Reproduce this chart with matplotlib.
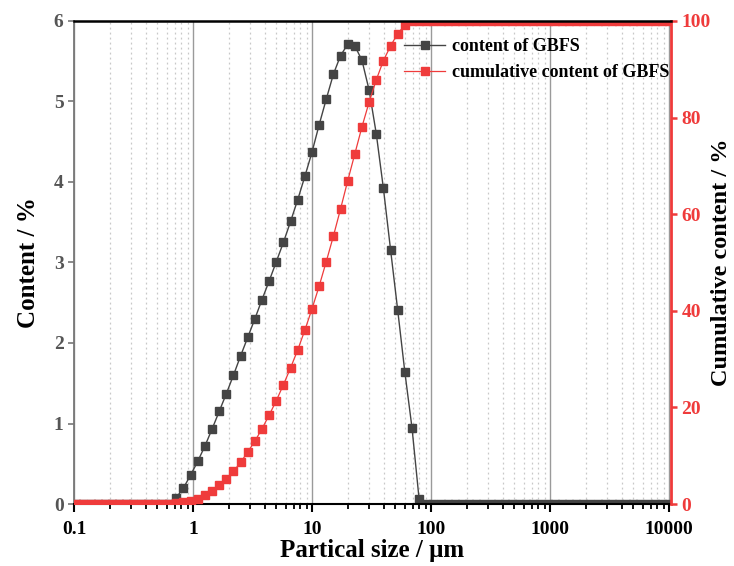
import numpy as np
import matplotlib
matplotlib.use('Agg')
import matplotlib.pyplot as plt
from matplotlib.ticker import FixedLocator, NullFormatter

plt.rcParams['font.family'] = ['Liberation Serif', 'DejaVu Serif']
plt.rcParams['font.weight'] = 'bold'

# size classes (um) of the analyser
sizes = [0.1047, 0.1202, 0.1380, 0.1585, 0.1820, 0.2089, 0.2399, 0.2754, 0.3162, 0.3631,
         0.4169, 0.4786, 0.5495, 0.6310, 0.7244, 0.8318, 0.9550, 1.096, 1.259, 1.445,
         1.660, 1.905, 2.188, 2.512, 2.884, 3.311, 3.802, 4.365, 5.012, 5.754,
         6.607, 7.586, 8.710, 10.00, 11.48, 13.18, 15.14, 17.38, 19.95, 22.91,
         26.30, 30.20, 34.67, 39.81, 45.71, 52.48, 60.26, 69.18, 79.43, 91.20,
         104.7, 120.2, 138.0, 158.5, 182.0, 208.9, 239.9, 275.4, 316.2, 363.1,
         416.9, 478.6, 549.5, 631.0, 724.4, 831.8, 955.0, 1096, 1259, 1445,
         1660, 1905, 2188, 2512, 2884, 3311, 3802, 4365, 5012, 5754,
         6607, 7586, 8710, 10000]

content = [0.0] * 14 + [
    0.08, 0.20, 0.36, 0.53, 0.72, 0.93, 1.15, 1.37, 1.60, 1.84,
    2.07, 2.30, 2.54, 2.77, 3.01, 3.25, 3.51, 3.78, 4.07, 4.37,
    4.71, 5.03, 5.34, 5.57, 5.71, 5.69, 5.51, 5.14, 4.60, 3.92,
    3.16, 2.41, 1.64, 0.95, 0.06] + [0.0] * 35

cumulative = [0.0] * 14 + [
    0.2, 0.4, 0.6, 1.1, 1.8, 2.7, 3.9, 5.2, 6.8, 8.6,
    10.8, 13.0, 15.6, 18.4, 21.4, 24.7, 28.2, 31.9, 36.0, 40.4,
    45.1, 50.2, 55.5, 61.1, 66.9, 72.5, 78.1, 83.2, 87.8, 91.8,
    94.8, 97.4, 99.1] + [100.0] * 37

xticks = [0.1, 1, 10, 100, 1000, 10000]
xticklabels = ['0.1', '1', '10', '100', '1000', '10000']

c_dark = '#444444'
c_red = '#ef3b3b'

fig = plt.figure(figsize=(7.34, 5.66), dpi=100)
ax1 = fig.add_axes([0.1008, 0.1095, 0.8134, 0.8535])
ax2 = ax1.twinx()

l1, = ax1.plot(sizes, content, color=c_dark, lw=1.0, marker='s', ms=5.2,
               mec=c_dark, mfc=c_dark, label='content of GBFS')
l2, = ax2.plot(sizes, cumulative, color=c_red, lw=0.9, marker='s', ms=5.2,
               mec=c_red, mfc=c_red, label='cumulative content of GBFS')

ax1.set_xscale('log')
ax1.set_xlim(0.1, 10394)
ax1.set_ylim(0, 6)
ax2.set_ylim(0, 100)

ax1.xaxis.set_major_locator(FixedLocator(xticks))
ax1.set_xticklabels(xticklabels)
minors = [m * 10.0 ** e for e in range(-1, 4) for m in range(2, 10)]
ax1.xaxis.set_minor_locator(FixedLocator(minors))
ax1.xaxis.set_minor_formatter(NullFormatter())

ax1.grid(which='major', axis='x', color='#9a9a9a', lw=1.0)
ax1.grid(which='minor', axis='x', color='#c8c8c8', ls=(0, (1.5, 2.5)), lw=0.9)
ax1.set_axisbelow(True)

ax1.set_yticks([0, 1, 2, 3, 4, 5, 6])
ax2.set_yticks([0, 20, 40, 60, 80, 100])

# spines
ax1.spines['left'].set_color('#777777')
ax1.spines['left'].set_linewidth(1.3)
ax1.spines['right'].set_visible(False)
ax1.spines['bottom'].set_color('black')
ax1.spines['bottom'].set_linewidth(1.5)
ax1.spines['top'].set_visible(False)
ax2.spines['left'].set_visible(False)
ax2.spines['bottom'].set_visible(False)
ax2.spines['top'].set_color('black')
ax2.spines['top'].set_linewidth(1.8)
ax2.spines['right'].set_color(c_red)
ax2.spines['right'].set_linewidth(2.0)

ax1.tick_params(axis='x', which='major', direction='out', length=6, width=1.5,
                color='black', labelsize=14, pad=6)
ax1.tick_params(axis='x', which='minor', direction='out', length=3.5, width=1.3,
                color='black')
ax1.tick_params(axis='y', direction='out', length=4.5, width=1.2,
                color='#777777', labelcolor='#555555', labelsize=14, pad=3)
ax2.tick_params(axis='y', direction='out', length=4.5, width=1.8,
                color=c_red, labelcolor=c_red, labelsize=14, pad=3)

ax1.set_xlabel('Partical size / μm', fontsize=18, fontweight='bold', labelpad=1)
ax1.set_ylabel('Content / %', fontsize=18, fontweight='bold', labelpad=10)
ax2.set_ylabel('Cumulative content / %', fontsize=17.5, fontweight='bold', labelpad=0.5)

ax2.legend(handles=[l1, l2], loc='upper right', bbox_to_anchor=(0.9114, 0.933),
           bbox_transform=fig.transFigure, frameon=False, fontsize=13,
           handlelength=2.3, handletextpad=0.35, labelspacing=0.5,
           borderaxespad=0, borderpad=0)

fig.savefig('out.png', dpi=100)
